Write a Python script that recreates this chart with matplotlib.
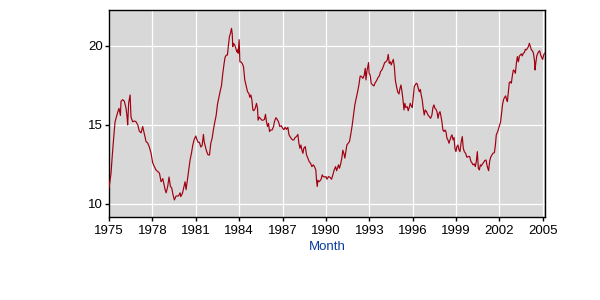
import matplotlib
matplotlib.use("Agg")
import matplotlib.pyplot as plt
import numpy as np

# ---- data (decimal year, value) ----
years_a = [1975.00, 1975.03, 1975.14, 1975.23, 1975.33, 1975.42, 1975.51, 1975.60, 1975.69, 1975.79, 1975.83,
           1975.95, 1976.06, 1976.18, 1976.25, 1976.29, 1976.36, 1976.46, 1976.52, 1976.64, 1976.76,
           1976.87, 1976.99, 1977.10, 1977.22, 1977.33, 1977.45, 1977.56, 1977.68, 1977.79, 1977.91,
           1978.02, 1978.14, 1978.25, 1978.37, 1978.49, 1978.60, 1978.72, 1978.79, 1978.88, 1978.95,
           1979.06, 1979.15, 1979.25, 1979.34, 1979.43, 1979.52, 1979.64, 1979.80, 1979.92]
vals_a = [11.0, 11.2, 11.94, 13.1, 14.26, 15.2, 15.5, 15.8, 16.05, 15.6, 16.5,
          16.6, 16.5, 16.05, 15.5, 15.0, 16.4, 16.9, 15.5, 15.2, 15.25,
          15.2, 15.0, 14.6, 14.5, 14.9, 14.4, 13.95, 13.85, 13.6, 13.2,
          12.6, 12.35, 12.15, 12.05, 11.94, 11.4, 11.6, 11.3, 10.9, 10.7,
          11.1, 11.7, 11.1, 11.0, 10.57, 10.25, 10.5, 10.5, 10.7]

years_b = [1979.96, 1980.08, 1980.19, 1980.26, 1980.33, 1980.42, 1980.52, 1980.61, 1980.70, 1980.79,
           1980.88, 1981.00, 1981.07, 1981.16, 1981.25, 1981.35, 1981.44, 1981.53, 1981.58, 1981.67,
           1981.76, 1981.85, 1981.95, 1982.04, 1982.13, 1982.22, 1982.32, 1982.41, 1982.50, 1982.59,
           1982.68, 1982.78, 1982.87, 1982.96, 1983.03, 1983.12, 1983.19, 1983.26, 1983.33, 1983.40,
           1983.47, 1983.52, 1983.56, 1983.61, 1983.70, 1983.77, 1983.84, 1983.88, 1983.93, 1984.00,
           1984.05, 1984.11, 1984.21, 1984.30, 1984.39, 1984.48, 1984.58, 1984.67, 1984.74, 1984.81,
           1984.88, 1984.95]
vals_b = [10.46, 10.67, 11.1, 11.4, 10.9, 11.5, 12.15, 12.8, 13.2, 13.7,
          14.05, 14.3, 14.1, 13.9, 13.9, 13.6, 13.7, 14.4, 13.95, 13.6,
          13.3, 13.1, 13.1, 13.85, 14.15, 14.7, 15.2, 15.6, 16.3, 16.7,
          17.1, 17.5, 18.27, 18.9, 19.3, 19.43, 19.43, 20.06, 20.6, 20.8,
          21.12, 20.8, 19.96, 20.17, 20.06, 19.85, 19.64, 19.75, 19.54, 20.4,
          19.0, 19.0, 18.9, 18.7, 17.85, 17.5, 17.1, 17.0, 16.75, 16.9,
          16.6, 15.95]

years_c = [1985.01, 1985.11, 1985.20, 1985.27, 1985.31, 1985.38, 1985.48, 1985.57, 1985.66, 1985.75,
           1985.82, 1985.89, 1985.96, 1986.03, 1986.10, 1986.17, 1986.28, 1986.38, 1986.44, 1986.54,
           1986.63, 1986.72, 1986.81, 1986.91, 1987.00, 1987.09, 1987.18, 1987.27, 1987.37, 1987.44,
           1987.51, 1987.60, 1987.69, 1987.78, 1987.87, 1987.97, 1988.06, 1988.13, 1988.20, 1988.27,
           1988.34, 1988.41, 1988.47, 1988.57, 1988.66, 1988.75, 1988.84, 1988.94, 1989.03, 1989.12,
           1989.21, 1989.30, 1989.35, 1989.40, 1989.44, 1989.51, 1989.58, 1989.67, 1989.74, 1989.81,
           1989.90, 1990.00]
vals_c = [15.9, 16.05, 16.37, 16.05, 15.3, 15.5, 15.4, 15.3, 15.3, 15.35,
          15.67, 15.2, 14.9, 15.1, 14.58, 14.68, 14.68, 14.9, 15.2, 15.46,
          15.35, 15.2, 14.9, 14.95, 14.8, 14.7, 14.85, 14.72, 14.85, 14.4,
          14.27, 14.15, 14.05, 14.05, 14.2, 14.27, 14.4, 13.85, 13.52, 13.73,
          13.4, 13.2, 13.52, 13.63, 13.1, 12.9, 12.68, 12.57, 12.36, 12.47,
          12.36, 12.15, 11.5, 11.1, 11.5, 11.4, 11.45, 11.56, 11.84, 11.73,
          11.7, 11.73]

years_d = [1990.07, 1990.18, 1990.30, 1990.39, 1990.48, 1990.57, 1990.67, 1990.74, 1990.80, 1990.87,
           1990.94, 1991.03, 1991.10, 1991.17, 1991.24, 1991.31, 1991.38, 1991.45, 1991.54, 1991.63,
           1991.73, 1991.82, 1991.91, 1992.00, 1992.10, 1992.19, 1992.28, 1992.37, 1992.47, 1992.56,
           1992.65, 1992.72, 1992.77, 1992.83, 1992.90, 1992.95, 1992.99, 1993.06, 1993.13, 1993.23,
           1993.32, 1993.41, 1993.50, 1993.60, 1993.69, 1993.78, 1993.87, 1993.97, 1994.06, 1994.15,
           1994.24, 1994.31, 1994.38, 1994.45, 1994.52, 1994.59, 1994.66, 1994.73, 1994.80, 1994.86,
           1994.96, 1995.05]
vals_d = [11.56, 11.73, 11.67, 11.56, 11.84, 12.15, 12.36, 12.1, 12.26, 12.47,
          12.26, 12.57, 12.9, 13.4, 13.2, 12.9, 13.3, 13.73, 13.84, 13.95,
          14.47, 15.0, 15.63, 16.27, 16.7, 17.1, 17.53, 18.1, 18.06, 17.95,
          18.16, 18.59, 17.85, 18.38, 18.7, 18.95, 18.27, 18.16, 17.64, 17.53,
          17.47, 17.68, 17.8, 18.0, 18.1, 18.38, 18.48, 18.7, 18.95, 19.0,
          19.1, 19.47, 18.9, 19.0, 18.8, 19.0, 19.15, 18.7, 17.85, 17.53,
          17.1, 16.96]

years_e = [1995.12, 1995.19, 1995.26, 1995.33, 1995.40, 1995.46, 1995.53, 1995.63, 1995.69, 1995.76,
           1995.83, 1995.90, 1995.97, 1996.04, 1996.11, 1996.18, 1996.25, 1996.32, 1996.39, 1996.46,
           1996.53, 1996.59, 1996.66, 1996.73, 1996.80, 1996.87, 1996.96, 1997.06, 1997.15, 1997.24,
           1997.33, 1997.40, 1997.47, 1997.54, 1997.61, 1997.68, 1997.75, 1997.82, 1997.89, 1997.96,
           1998.02, 1998.09, 1998.16, 1998.23, 1998.30, 1998.37, 1998.44, 1998.51, 1998.58, 1998.65,
           1998.72, 1998.79, 1998.86, 1998.92, 1998.99, 1999.06, 1999.13, 1999.20, 1999.27, 1999.36,
           1999.43, 1999.50, 1999.57, 1999.66, 1999.75, 1999.85, 1999.94, 2000.03, 2000.12]
vals_e = [17.3, 17.53, 17.1, 16.6, 15.95, 16.37, 16.1, 16.15, 15.9, 16.1,
          16.37, 16.2, 16.1, 16.8, 17.43, 17.53, 17.64, 17.58, 17.3, 17.1,
          17.25, 16.9, 16.58, 16.05, 15.63, 15.95, 15.84, 15.63, 15.53, 15.42,
          15.63, 16.1, 16.27, 16.05, 15.99, 15.84, 15.42, 15.74, 15.84, 15.53,
          15.2, 14.68, 14.58, 14.68, 14.58, 14.15, 14.05, 13.84, 14.05, 14.26,
          14.37, 14.05, 14.2, 13.52, 13.31, 13.63, 13.73, 13.42, 13.31, 13.95,
          14.26, 13.52, 13.31, 13.2, 12.95, 13.0, 13.0, 12.68, 12.57]

years_f = [2000.17, 2000.26, 2000.33, 2000.40, 2000.47, 2000.54, 2000.61, 2000.68, 2000.75, 2000.82,
           2000.89, 2000.98, 2001.07, 2001.16, 2001.25, 2001.32, 2001.39, 2001.48, 2001.55, 2001.65,
           2001.72, 2001.78, 2001.88, 2001.95, 2002.02, 2002.08, 2002.15, 2002.22, 2002.29, 2002.36,
           2002.43, 2002.50, 2002.55, 2002.62, 2002.68, 2002.75, 2002.82, 2002.89, 2002.96, 2003.03,
           2003.10, 2003.17, 2003.24, 2003.31, 2003.38, 2003.45, 2003.52, 2003.58, 2003.65, 2003.72,
           2003.79, 2003.86, 2003.93, 2004.00, 2004.07, 2004.14, 2004.21, 2004.28, 2004.35, 2004.42,
           2004.46, 2004.51, 2004.58, 2004.65, 2004.72, 2004.78, 2004.85, 2004.92, 2004.99, 2005.06,
           2005.11]
vals_f = [12.47, 12.53, 12.36, 12.68, 13.31, 12.26, 12.15, 12.47, 12.4, 12.53,
          12.6, 12.74, 12.78, 12.36, 12.1, 12.68, 12.95, 13.1, 13.2, 13.25,
          13.73, 14.37, 14.58, 14.8, 15.0, 15.2, 15.74, 16.33, 16.62, 16.75,
          16.84, 16.58, 16.48, 17.1, 17.68, 17.74, 17.64, 18.1, 18.48, 18.43,
          18.27, 18.9, 19.33, 19.0, 19.37, 19.43, 19.5, 19.37, 19.54, 19.58,
          19.79, 19.75, 19.85, 19.96, 20.17, 19.96, 19.75, 19.7, 19.54, 19.1,
          18.48, 18.9, 19.37, 19.54, 19.64, 19.7, 19.43, 19.28, 19.15, 19.43,
          19.54]

x_ticks = [1975, 1978, 1981, 1984, 1987, 1990, 1993, 1996, 1999, 2002, 2005]
y_ticks = [10, 15, 20]
x_label = "Month"

years = np.array(years_a + years_b + years_c + years_d + years_e + years_f)
vals = np.array(vals_a + vals_b + vals_c + vals_d + vals_e + vals_f)

plt.rcParams['font.family'] = ['Liberation Sans', 'DejaVu Sans']

fig = plt.figure(figsize=(6, 3), dpi=100)
ax = fig.add_axes([109 / 600, 1 - 216.5 / 300, (545 - 109) / 600, (216.5 - 10) / 300])
ax.set_facecolor('#d8d8d8')
ax.plot(years, vals, color='#a00010', linewidth=0.85, zorder=3)

ax.set_xlim(1975, 2005.15)
ax.set_ylim(9.2, 22.28)
ax.set_xticks(x_ticks)
ax.set_yticks(y_ticks)
ax.grid(True, color='white', linewidth=0.9, zorder=1)
ax.set_axisbelow(True)
for s in ax.spines.values():
    s.set_color('black')
    s.set_linewidth(1.0)
ax.tick_params(direction='out', length=3, width=1, colors='black', labelsize=9.5)
ax.tick_params(axis='y', pad=1.5)
ax.tick_params(axis='x', pad=3)
ax.set_xlabel(x_label, color='#0a3ca0', fontsize=9.5, labelpad=3)

fig.savefig('out.png', dpi=100, facecolor='white')
